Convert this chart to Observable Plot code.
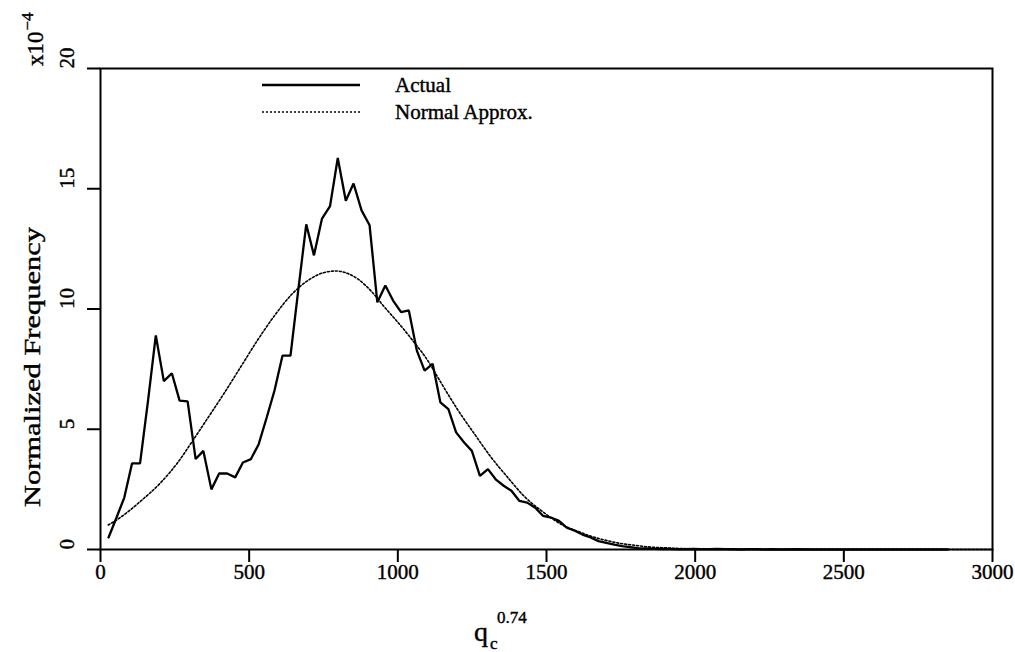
<!DOCTYPE html>
<html>
<head>
<meta charset="utf-8">
<script src="https://cdn.jsdelivr.net/npm/d3@7"></script>
<script src="https://cdn.jsdelivr.net/npm/@observablehq/plot@0.6"></script>
<style>
  html, body { margin: 0; padding: 0; background: #fff; }
  #chart { position: relative; width: 1015px; height: 652px; }
  svg text { fill: #000; }
</style>
</head>
<body>
<div id="chart"></div>
<script>
// ---- data (values in units of 1e-4) ----
const actualX = [27, 53, 80, 106, 133, 160, 186, 213, 240, 266, 293, 320, 346, 373, 399, 426, 453, 479, 506, 532, 559, 585, 612, 639, 665, 692, 718, 745, 772, 798, 825, 851, 878, 905, 931, 958, 984, 1011, 1037, 1064, 1090, 1117, 1143, 1170, 1196, 1223, 1249, 1276, 1303, 1329, 1356, 1382, 1409, 1435, 1462, 1488, 1515, 1542, 1568, 1595, 1621, 1648, 1675, 1701, 1728, 1754, 1781, 1808, 1834, 1861, 1887, 1914, 1941, 1967, 1994, 2020, 2047, 2073, 2100, 2126, 2153, 2180, 2206, 2233, 2259, 2286, 2339, 2392, 2472, 2550, 2650, 2750, 2850];
const actualY = [0.5, 1.3, 2.16, 3.58, 3.58, 6.2, 8.9, 7.0, 7.33, 6.19, 6.16, 3.76, 4.1, 2.5, 3.16, 3.16, 3.0, 3.62, 3.76, 4.38, 5.49, 6.6, 8.06, 8.06, 10.77, 13.52, 12.23, 13.76, 14.28, 16.28, 14.5, 15.22, 14.1, 13.48, 10.28, 10.98, 10.35, 9.87, 9.94, 8.27, 7.44, 7.72, 6.12, 5.84, 4.87, 4.45, 4.1, 3.06, 3.34, 2.92, 2.65, 2.44, 2.02, 1.95, 1.74, 1.4, 1.33, 1.19, 0.91, 0.78, 0.62, 0.5, 0.35, 0.28, 0.2, 0.14, 0.1, 0.06, 0.05, 0.03, 0.02, 0.02, 0.01, 0.01, 0.02, 0.01, 0.01, 0.02, 0.01, 0.01, 0.0, 0.01, 0.01, 0.0, 0.01, 0.0, 0.01, 0.0, 0.0, 0.0, 0.0, 0.0, 0.0];

const normalX = [26, 63, 136, 204, 260, 310, 361, 417, 473, 529, 585, 641, 697, 753, 792, 837, 865, 910, 955, 1000, 1050, 1101, 1146, 1202, 1258, 1314, 1370, 1426, 1482, 1560, 1600, 1650, 1700, 1750, 1800, 1850, 1900, 1950, 2000, 2100, 2200, 2300, 2500, 2700, 3000];
const normalY = [1.02, 1.3, 2.02, 2.8, 3.62, 4.52, 5.47, 6.52, 7.62, 8.72, 9.72, 10.58, 11.18, 11.52, 11.58, 11.45, 11.25, 10.75, 10.08, 9.45, 8.69, 7.85, 6.92, 5.8, 4.8, 3.83, 2.99, 2.2, 1.62, 0.98, 0.78, 0.55, 0.38, 0.25, 0.17, 0.1, 0.07, 0.04, 0.025, 0.008, 0.003, 0.001, 0.0, 0.0, 0.0];

const xTicks = [0, 500, 1000, 1500, 2000, 2500, 3000];
const yTicks = [0, 5, 10, 15, 20];

const actual = actualX.map((x, i) => ({x, y: actualY[i]}));
const normal = normalX.map((x, i) => ({x, y: normalY[i]}));

const serif = "'Liberation Serif', 'Times New Roman', serif";

const plot = Plot.plot({
  width: 1015,
  height: 652,
  marginLeft: 100,
  marginRight: 23,
  marginTop: 68,
  marginBottom: 103,
  style: {fontFamily: serif, fontSize: "21px", background: "#fff", color: "#000"},
  x: {domain: [0, 3000], axis: null},
  y: {domain: [0, 20], axis: null},
  marks: [
    Plot.frame({stroke: "#000", strokeWidth: 2}),
    Plot.axisX(xTicks, {anchor: "bottom", tickSize: 13, tickFormat: () => "", label: null, strokeWidth: 2}),
    Plot.axisY(yTicks, {anchor: "left", tickSize: 13, tickFormat: () => "", label: null, strokeWidth: 2}),
    Plot.text(xTicks, {x: d => d, text: d => String(d), frameAnchor: "bottom", dy: 29, fontSize: 21, stroke: "#000", strokeWidth: 0.4}),
    Plot.text(yTicks, {y: d => d, text: d => String(d), frameAnchor: "left", dx: -33, rotate: -90, fontSize: 21, stroke: "#000", strokeWidth: 0.4}),
    Plot.line(normal, {x: "x", y: "y", stroke: "#000", strokeWidth: 1.6, strokeDasharray: "2,2", curve: "monotone-x"}),
    Plot.line(actual, {x: "x", y: "y", stroke: "#000", strokeWidth: 2.3, strokeLinejoin: "miter"})
  ]
});

document.getElementById("chart").appendChild(plot);

const svg = d3.select(plot);

// Legend
const lg = svg.append("g").attr("font-family", serif).attr("font-size", 21)
  .attr("text-anchor", "start").attr("stroke-width", 0.4);
lg.append("line").attr("x1", 262).attr("x2", 360).attr("y1", 85).attr("y2", 85)
  .attr("stroke", "#000").attr("stroke-width", 2.3);
lg.append("text").attr("x", 395).attr("y", 92).attr("stroke", "#000").text("Actual");
lg.append("line").attr("x1", 262).attr("x2", 360).attr("y1", 112).attr("y2", 112)
  .attr("stroke", "#000").attr("stroke-width", 1.6).attr("stroke-dasharray", "2,2");
lg.append("text").attr("x", 395).attr("y", 119).attr("stroke", "#000").text("Normal Approx.");

// Y axis title
svg.append("text")
  .attr("transform", "translate(40,367) rotate(-90)")
  .attr("text-anchor", "middle")
  .attr("font-family", serif)
  .attr("font-size", 23)
  .attr("stroke", "#000").attr("stroke-width", 0.4)
  .attr("textLength", 280)
  .attr("lengthAdjust", "spacingAndGlyphs")
  .text("Normalized Frequency");

// Scale factor x10^-4
const sf = svg.append("text")
  .attr("transform", "translate(43,66) rotate(-90)")
  .attr("text-anchor", "start")
  .attr("font-family", serif)
  .attr("font-size", 23)
  .attr("stroke", "#000").attr("stroke-width", 0.4);
sf.append("tspan").text("x10");
sf.append("tspan").attr("font-size", 17).attr("dy", -10).attr("dx", 1).text("\u22124");

// X axis title q_c^0.74
const xt = svg.append("g").attr("font-family", serif).attr("text-anchor", "start")
  .attr("stroke", "#000").attr("stroke-width", 0.4);
xt.append("text").attr("x", 474).attr("y", 641).attr("font-size", 28).text("q");
xt.append("text").attr("x", 490).attr("y", 649).attr("font-size", 17).text("c");
xt.append("text").attr("x", 497).attr("y", 623).attr("font-size", 17).text("0.74");
</script>
</body>
</html>
